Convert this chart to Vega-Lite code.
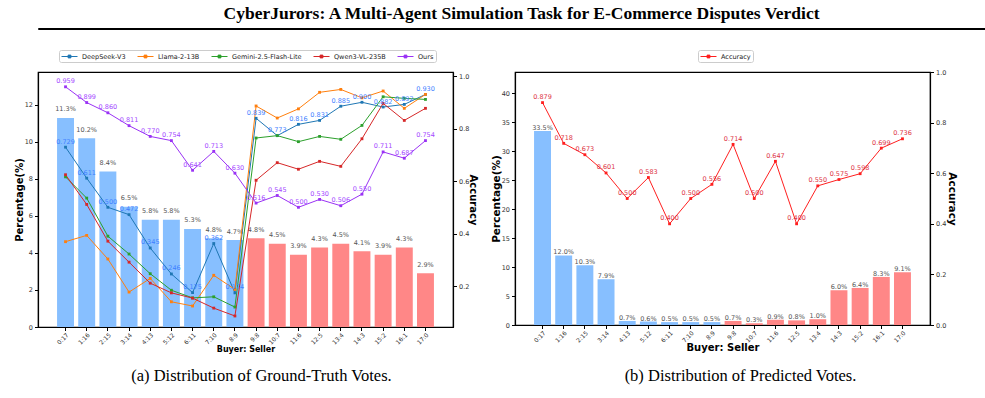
{
  "$schema": "https://vega.github.io/schema/vega-lite/v6.json",
  "background": "white",
  "padding": {"left": 13, "right": 5, "top": 4, "bottom": 0},
  "spacing": 18,
  "config": {
    "font": "DejaVu Sans",
    "view": {"stroke": "black", "strokeWidth": 1.2},
    "axis": {"domainColor": "black", "domainWidth": 1.2, "tickColor": "black", "tickWidth": 1, "tickSize": 3.5, "labelFont": "DejaVu Sans", "labelFontSize": 6.5, "labelColor": "#333333", "labelPadding": 2, "titleFont": "DejaVu Sans", "titleFontWeight": "bold", "titleColor": "black", "grid": false, "minExtent": 0},
    "legend": {"labelFont": "DejaVu Sans", "labelFontSize": 6.5, "labelColor": "#222222", "padding": 2, "strokeColor": "#cccccc", "fillColor": "white", "cornerRadius": 2}
  },
  "datasets": {
    "barsA": [
      {"c": "0:17", "p": 11.3, "g": "s"}, {"c": "1:16", "p": 10.2, "g": "s"}, {"c": "2:15", "p": 8.4, "g": "s"},
      {"c": "3:14", "p": 6.5, "g": "s"}, {"c": "4:13", "p": 5.8, "g": "s"}, {"c": "5:12", "p": 5.8, "g": "s"},
      {"c": "6:11", "p": 5.3, "g": "s"}, {"c": "7:10", "p": 4.8, "g": "s"}, {"c": "8:9", "p": 4.7, "g": "s"},
      {"c": "9:8", "p": 4.8, "g": "b"}, {"c": "10:7", "p": 4.5, "g": "b"}, {"c": "11:6", "p": 3.9, "g": "b"},
      {"c": "12:5", "p": 4.3, "g": "b"}, {"c": "13:4", "p": 4.5, "g": "b"}, {"c": "14:3", "p": 4.1, "g": "b"},
      {"c": "15:2", "p": 3.9, "g": "b"}, {"c": "16:1", "p": 4.3, "g": "b"}, {"c": "17:0", "p": 2.9, "g": "b"}
    ],
    "barsB": [
      {"c": "0:17", "p": 33.5, "g": "s"}, {"c": "1:16", "p": 12.0, "g": "s"}, {"c": "2:15", "p": 10.3, "g": "s"},
      {"c": "3:14", "p": 7.9, "g": "s"}, {"c": "4:13", "p": 0.7, "g": "s"}, {"c": "5:12", "p": 0.6, "g": "s"},
      {"c": "6:11", "p": 0.5, "g": "s"}, {"c": "7:10", "p": 0.5, "g": "s"}, {"c": "8:9", "p": 0.5, "g": "s"},
      {"c": "9:8", "p": 0.7, "g": "b"}, {"c": "10:7", "p": 0.3, "g": "b"}, {"c": "11:6", "p": 0.9, "g": "b"},
      {"c": "12:5", "p": 0.8, "g": "b"}, {"c": "13:4", "p": 1.0, "g": "b"}, {"c": "14:3", "p": 6.0, "g": "b"},
      {"c": "15:2", "p": 6.4, "g": "b"}, {"c": "16:1", "p": 8.3, "g": "b"}, {"c": "17:0", "p": 9.1, "g": "b"}
    ],
    "linesB": [
      {"c": "0:17", "a": 0.879}, {"c": "1:16", "a": 0.718}, {"c": "2:15", "a": 0.673}, {"c": "3:14", "a": 0.601},
      {"c": "4:13", "a": 0.500}, {"c": "5:12", "a": 0.583}, {"c": "6:11", "a": 0.400}, {"c": "7:10", "a": 0.500},
      {"c": "8:9", "a": 0.556}, {"c": "9:8", "a": 0.714}, {"c": "10:7", "a": 0.500}, {"c": "11:6", "a": 0.647},
      {"c": "12:5", "a": 0.400}, {"c": "13:4", "a": 0.550}, {"c": "14:3", "a": 0.575}, {"c": "15:2", "a": 0.598},
      {"c": "16:1", "a": 0.699}, {"c": "17:0", "a": 0.736}
    ],
    "linesA": [
      {"c": "0:17", "m": "DeepSeek-V3", "a": 0.729}, {"c": "1:16", "m": "DeepSeek-V3", "a": 0.611}, {"c": "2:15", "m": "DeepSeek-V3", "a": 0.500},
      {"c": "3:14", "m": "DeepSeek-V3", "a": 0.472}, {"c": "4:13", "m": "DeepSeek-V3", "a": 0.345}, {"c": "5:12", "m": "DeepSeek-V3", "a": 0.246},
      {"c": "6:11", "m": "DeepSeek-V3", "a": 0.175}, {"c": "7:10", "m": "DeepSeek-V3", "a": 0.362}, {"c": "8:9", "m": "DeepSeek-V3", "a": 0.174},
      {"c": "9:8", "m": "DeepSeek-V3", "a": 0.839}, {"c": "10:7", "m": "DeepSeek-V3", "a": 0.773}, {"c": "11:6", "m": "DeepSeek-V3", "a": 0.816},
      {"c": "12:5", "m": "DeepSeek-V3", "a": 0.831}, {"c": "13:4", "m": "DeepSeek-V3", "a": 0.885}, {"c": "14:3", "m": "DeepSeek-V3", "a": 0.900},
      {"c": "15:2", "m": "DeepSeek-V3", "a": 0.882}, {"c": "16:1", "m": "DeepSeek-V3", "a": 0.892}, {"c": "17:0", "m": "DeepSeek-V3", "a": 0.930},
      {"c": "0:17", "m": "Llama-2-13B", "a": 0.369}, {"c": "1:16", "m": "Llama-2-13B", "a": 0.393}, {"c": "2:15", "m": "Llama-2-13B", "a": 0.303},
      {"c": "3:14", "m": "Llama-2-13B", "a": 0.177}, {"c": "4:13", "m": "Llama-2-13B", "a": 0.229}, {"c": "5:12", "m": "Llama-2-13B", "a": 0.140},
      {"c": "6:11", "m": "Llama-2-13B", "a": 0.124}, {"c": "7:10", "m": "Llama-2-13B", "a": 0.241}, {"c": "8:9", "m": "Llama-2-13B", "a": 0.187},
      {"c": "9:8", "m": "Llama-2-13B", "a": 0.886}, {"c": "10:7", "m": "Llama-2-13B", "a": 0.840}, {"c": "11:6", "m": "Llama-2-13B", "a": 0.875},
      {"c": "12:5", "m": "Llama-2-13B", "a": 0.938}, {"c": "13:4", "m": "Llama-2-13B", "a": 0.949}, {"c": "14:3", "m": "Llama-2-13B", "a": 0.917},
      {"c": "15:2", "m": "Llama-2-13B", "a": 0.943}, {"c": "16:1", "m": "Llama-2-13B", "a": 0.877}, {"c": "17:0", "m": "Llama-2-13B", "a": 0.930},
      {"c": "0:17", "m": "Gemini-2.5-Flash-Lite", "a": 0.616}, {"c": "1:16", "m": "Gemini-2.5-Flash-Lite", "a": 0.535}, {"c": "2:15", "m": "Gemini-2.5-Flash-Lite", "a": 0.390},
      {"c": "3:14", "m": "Gemini-2.5-Flash-Lite", "a": 0.322}, {"c": "4:13", "m": "Gemini-2.5-Flash-Lite", "a": 0.247}, {"c": "5:12", "m": "Gemini-2.5-Flash-Lite", "a": 0.184},
      {"c": "6:11", "m": "Gemini-2.5-Flash-Lite", "a": 0.155}, {"c": "7:10", "m": "Gemini-2.5-Flash-Lite", "a": 0.159}, {"c": "8:9", "m": "Gemini-2.5-Flash-Lite", "a": 0.120},
      {"c": "9:8", "m": "Gemini-2.5-Flash-Lite", "a": 0.764}, {"c": "10:7", "m": "Gemini-2.5-Flash-Lite", "a": 0.773}, {"c": "11:6", "m": "Gemini-2.5-Flash-Lite", "a": 0.750},
      {"c": "12:5", "m": "Gemini-2.5-Flash-Lite", "a": 0.770}, {"c": "13:4", "m": "Gemini-2.5-Flash-Lite", "a": 0.759}, {"c": "14:3", "m": "Gemini-2.5-Flash-Lite", "a": 0.812},
      {"c": "15:2", "m": "Gemini-2.5-Flash-Lite", "a": 0.921}, {"c": "16:1", "m": "Gemini-2.5-Flash-Lite", "a": 0.915}, {"c": "17:0", "m": "Gemini-2.5-Flash-Lite", "a": 0.911},
      {"c": "0:17", "m": "Qwen3-VL-235B", "a": 0.624}, {"c": "1:16", "m": "Qwen3-VL-235B", "a": 0.511}, {"c": "2:15", "m": "Qwen3-VL-235B", "a": 0.371},
      {"c": "3:14", "m": "Qwen3-VL-235B", "a": 0.291}, {"c": "4:13", "m": "Qwen3-VL-235B", "a": 0.211}, {"c": "5:12", "m": "Qwen3-VL-235B", "a": 0.174},
      {"c": "6:11", "m": "Qwen3-VL-235B", "a": 0.154}, {"c": "7:10", "m": "Qwen3-VL-235B", "a": 0.116}, {"c": "8:9", "m": "Qwen3-VL-235B", "a": 0.086},
      {"c": "9:8", "m": "Qwen3-VL-235B", "a": 0.603}, {"c": "10:7", "m": "Qwen3-VL-235B", "a": 0.670}, {"c": "11:6", "m": "Qwen3-VL-235B", "a": 0.645},
      {"c": "12:5", "m": "Qwen3-VL-235B", "a": 0.675}, {"c": "13:4", "m": "Qwen3-VL-235B", "a": 0.656}, {"c": "14:3", "m": "Qwen3-VL-235B", "a": 0.761},
      {"c": "15:2", "m": "Qwen3-VL-235B", "a": 0.896}, {"c": "16:1", "m": "Qwen3-VL-235B", "a": 0.831}, {"c": "17:0", "m": "Qwen3-VL-235B", "a": 0.877},
      {"c": "0:17", "m": "Ours", "a": 0.959}, {"c": "1:16", "m": "Ours", "a": 0.899}, {"c": "2:15", "m": "Ours", "a": 0.860},
      {"c": "3:14", "m": "Ours", "a": 0.811}, {"c": "4:13", "m": "Ours", "a": 0.770}, {"c": "5:12", "m": "Ours", "a": 0.754},
      {"c": "6:11", "m": "Ours", "a": 0.641}, {"c": "7:10", "m": "Ours", "a": 0.713}, {"c": "8:9", "m": "Ours", "a": 0.630},
      {"c": "9:8", "m": "Ours", "a": 0.516}, {"c": "10:7", "m": "Ours", "a": 0.545}, {"c": "11:6", "m": "Ours", "a": 0.500},
      {"c": "12:5", "m": "Ours", "a": 0.530}, {"c": "13:4", "m": "Ours", "a": 0.506}, {"c": "14:3", "m": "Ours", "a": 0.550},
      {"c": "15:2", "m": "Ours", "a": 0.711}, {"c": "16:1", "m": "Ours", "a": 0.687}, {"c": "17:0", "m": "Ours", "a": 0.754}
    ]
  },
  "vconcat": [
    {
      "title": {"text": "CyberJurors: A Multi-Agent Simulation Task for E-Commerce Disputes Verdict", "font": "Liberation Serif", "fontSize": 17.5, "fontWeight": "bold", "color": "black", "anchor": "middle", "baseline": "bottom", "offset": -12.5},
      "width": 967,
      "height": 1,
      "view": {"stroke": "black", "strokeWidth": 1},
      "data": {"values": [{"k": 1}]},
      "mark": {"type": "point", "opacity": 0, "size": 0},
      "encoding": {}
    },
    {
      "columns": 2,
      "align": "none",
      "spacing": {"column": 11, "row": 0},
      "concat": [
        {
          "width": 415,
          "height": 255,
          "title": {"text": "(a) Distribution of Ground-Truth Votes.", "orient": "bottom", "font": "Liberation Serif", "fontSize": 16.5, "fontWeight": "normal", "color": "black", "anchor": "middle", "frame": "group", "dx": 16, "offset": 15, "baseline": "top"},
          "layer": [
            {
              "data": {"name": "barsA"},
              "transform": [{"calculate": "format(datum.p, '.1f') + '%'", "as": "lbl"}],
              "encoding": {
                "x": {"field": "c", "type": "nominal", "sort": ["0:17","1:16","2:15","3:14","4:13","5:12","6:11","7:10","8:9","9:8","10:7","11:6","12:5","13:4","14:3","15:2","16:1","17:0"], "scale": {"paddingInner": 0.2, "paddingOuter": 0.9}, "axis": {"title": "Buyer: Seller", "labelAngle": -45, "labelFontSize": 6, "labelPadding": 1, "titleFontSize": 8, "titlePadding": 0}},
                "y": {"field": "p", "type": "quantitative", "scale": {"domain": [0, 13.78], "nice": false}, "axis": {"title": "Percentage(%)", "orient": "left", "values": [0, 2, 4, 6, 8, 10, 12], "titleFontSize": 10, "titlePadding": 0}}
              },
              "layer": [
                {"mark": {"type": "bar"}, "encoding": {"color": {"field": "g", "type": "nominal", "scale": {"domain": ["s", "b"], "range": ["#87bfff", "#ff8787"]}, "legend": null}}},
                {"mark": {"type": "text", "baseline": "bottom", "dy": -5.5, "fontSize": 6.5, "color": "#555555"}, "encoding": {"text": {"field": "lbl"}}}
              ]
            },
            {
              "data": {"name": "linesA"},
              "encoding": {
                "x": {"field": "c", "type": "nominal", "sort": ["0:17","1:16","2:15","3:14","4:13","5:12","6:11","7:10","8:9","9:8","10:7","11:6","12:5","13:4","14:3","15:2","16:1","17:0"]},
                "y": {"field": "a", "type": "quantitative", "scale": {"domain": [0.044, 1.0154], "nice": false}, "axis": {"title": "Accuracy", "orient": "right", "values": [0.2, 0.4, 0.6, 0.8, 1.0], "format": ".1f", "titleFontSize": 10, "titlePadding": -1}}
              },
              "layer": [
                {
                  "mark": {"type": "line", "strokeWidth": 1, "point": {"shape": "square", "filled": true, "size": 8}},
                  "encoding": {"color": {"field": "m", "type": "nominal", "scale": {"domain": ["DeepSeek-V3", "Llama-2-13B", "Gemini-2.5-Flash-Lite", "Qwen3-VL-235B", "Ours"], "range": ["#1f77b4", "#ff7f0e", "#2ca02c", "#d62728", "#9a32f5"]},
                    "legend": {"orient": "none", "legendX": 21, "legendY": -22, "direction": "horizontal", "columns": 5, "title": null, "symbolType": "M-2,0H2M-0.35,-0.35H0.35V0.35H-0.35Z", "symbolSize": 64, "symbolStrokeWidth": 1, "symbolOffset": 4, "labelOffset": 8, "columnPadding": 9}}}
                },
                {
                  "transform": [{"filter": "datum.m == 'DeepSeek-V3' || datum.m == 'Ours'"}],
                  "mark": {"type": "text", "baseline": "bottom", "dy": -2.5, "fontSize": 6.5},
                  "encoding": {"text": {"field": "a", "format": ".3f"}, "color": {"field": "m", "type": "nominal", "scale": {"domain": ["DeepSeek-V3", "Ours"], "range": ["#3f7fff", "#a448ff"]}, "legend": null}}
                }
              ],
              "resolve": {"scale": {"color": "independent"}}
            }
          ],
          "resolve": {"scale": {"y": "independent", "color": "independent"}}
        },
        {
          "width": 415,
          "height": 253,
          "title": {"text": "(b) Distribution of Predicted Votes.", "orient": "bottom", "font": "Liberation Serif", "fontSize": 16.5, "fontWeight": "normal", "color": "black", "anchor": "middle", "frame": "group", "dx": 18, "offset": 16, "baseline": "top"},
          "layer": [
            {
              "data": {"name": "barsB"},
              "transform": [{"calculate": "format(datum.p, '.1f') + '%'", "as": "lbl"}],
              "encoding": {
                "x": {"field": "c", "type": "nominal", "sort": ["0:17","1:16","2:15","3:14","4:13","5:12","6:11","7:10","8:9","9:8","10:7","11:6","12:5","13:4","14:3","15:2","16:1","17:0"], "scale": {"paddingInner": 0.2, "paddingOuter": 0.9}, "axis": {"title": "Buyer: Seller", "labelAngle": -45, "labelFontSize": 6, "labelPadding": 1, "titleFontSize": 10, "titlePadding": -1}},
                "y": {"field": "p", "type": "quantitative", "scale": {"domain": [0, 43.67], "nice": false}, "axis": {"title": "Percentage(%)", "orient": "left", "values": [0, 5, 10, 15, 20, 25, 30, 35, 40], "titleFontSize": 10.5, "titlePadding": 0}}
              },
              "layer": [
                {"mark": {"type": "bar"}, "encoding": {"color": {"field": "g", "type": "nominal", "scale": {"domain": ["s", "b"], "range": ["#87bfff", "#ff8787"]}, "legend": null}}},
                {"mark": {"type": "text", "baseline": "bottom", "dy": 0, "fontSize": 6.5, "color": "#555555"}, "encoding": {"text": {"field": "lbl"}}}
              ]
            },
            {
              "data": {"name": "linesB"},
              "encoding": {
                "x": {"field": "c", "type": "nominal", "sort": ["0:17","1:16","2:15","3:14","4:13","5:12","6:11","7:10","8:9","9:8","10:7","11:6","12:5","13:4","14:3","15:2","16:1","17:0"]},
                "y": {"field": "a", "type": "quantitative", "scale": {"domain": [0, 1.0], "nice": false}, "axis": {"title": "Accuracy", "orient": "right", "values": [0, 0.2, 0.4, 0.6, 0.8, 1.0], "format": ".1f", "titleFontSize": 10.5, "titlePadding": 1}}
              },
              "layer": [
                {
                  "mark": {"type": "line", "strokeWidth": 1, "point": {"shape": "square", "filled": true, "size": 8}},
                  "encoding": {"color": {"datum": "Accuracy", "type": "nominal", "scale": {"range": ["#ff1f1f"]},
                    "legend": {"orient": "none", "legendX": 183, "legendY": -22, "direction": "horizontal", "title": null, "symbolType": "M-2,0H2M-0.35,-0.35H0.35V0.35H-0.35Z", "symbolSize": 64, "symbolStrokeWidth": 1, "symbolOffset": 4, "labelOffset": 8}}}
                },
                {
                  "mark": {"type": "text", "baseline": "bottom", "dy": -2.5, "fontSize": 6.5, "color": "#dd3344"},
                  "encoding": {"text": {"field": "a", "format": ".3f"}}
                }
              ]
            }
          ],
          "resolve": {"scale": {"y": "independent", "color": "independent"}}
        }
      ]
    }
  ]
}
